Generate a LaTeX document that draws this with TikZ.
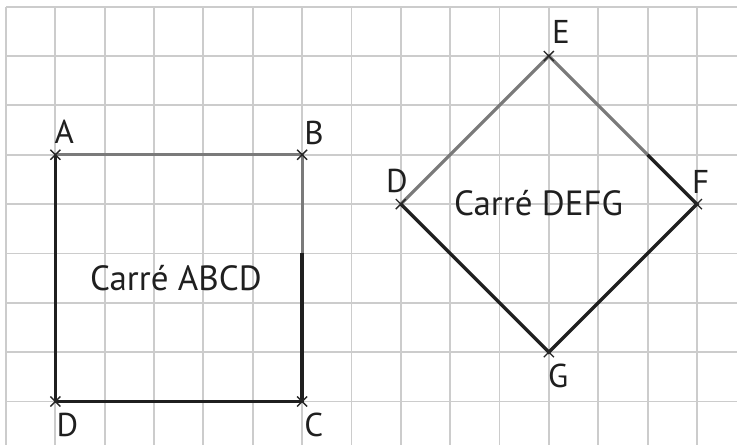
\documentclass[tikz,border=0pt]{standalone}
\usepackage{fontspec}
\setmainfont{PT Sans}
\usetikzlibrary{calc}
\begin{document}
\begin{tikzpicture}[x=1pt,y=-1pt,
  gridline/.style={draw=black!20,line width=1.9pt},
  seggray/.style={draw=black!52,line width=3.2pt},
  segblack/.style={draw=black!88,line width=3.4pt},
  crossmark/.style={draw=black!85,line width=1.3pt},
  ptlabel/.style={inner sep=0pt,anchor=base west,font=\fontsize{33}{36}\selectfont,text=black!88},
  title/.style={inner sep=0pt,anchor=base west,font=\fontsize{35}{38}\selectfont,text=black!88}]
\useasboundingbox (0,0) rectangle (737,445);
\def\cs{49.35}
\def\ox{6}
\def\oy{6.7}
% grid
\foreach \i in {0,...,14}{
  \draw[gridline] ({\ox+\i*\cs},\oy) -- ({\ox+\i*\cs},445);
}
\foreach \j in {0,...,8}{
  \draw[gridline] (\ox,{\oy+\j*\cs}) -- (737,{\oy+\j*\cs});
}
% points
\coordinate (A) at ({\ox+1*\cs},{\oy+3*\cs});
\coordinate (B) at ({\ox+6*\cs},{\oy+3*\cs});
\coordinate (C) at ({\ox+6*\cs},{\oy+8*\cs});
\coordinate (D) at ({\ox+1*\cs},{\oy+8*\cs});
\coordinate (BC) at ({\ox+6*\cs},{\oy+5*\cs});
\coordinate (D2) at ({\ox+8*\cs},{\oy+4*\cs});
\coordinate (E) at ({\ox+11*\cs},{\oy+1*\cs});
\coordinate (F) at ({\ox+14*\cs},{\oy+4*\cs});
\coordinate (G) at ({\ox+11*\cs},{\oy+7*\cs});
\coordinate (EF) at ({\ox+13*\cs},{\oy+3*\cs});
% square ABCD
\draw[seggray] (A) -- (B) -- (BC);
\draw[segblack,line join=miter] (BC) -- (C) -- (D) -- (A);
% square DEFG
\draw[seggray] (D2) -- (E) -- (EF);
\draw[segblack] (EF) -- (F) -- (G) -- (D2);
% crosses
\foreach \p in {A,B,C,D,D2,E,F,G}{
  \draw[crossmark] ($(\p)+(-5,-5)$) -- ($(\p)+(5,5)$);
  \draw[crossmark] ($(\p)+(-5,5)$) -- ($(\p)+(5,-5)$);
}
% labels
\node[ptlabel] (lA) at ($(A)+(-1,-11)$) {A};
\node[ptlabel] (lB) at ($(B)+(2,-10)$) {B};
\node[ptlabel] (lD) at ($(D)+(1,34.5)$) {D};
\node[ptlabel] (lC) at ($(C)+(2,34.5)$) {C};
\node[ptlabel] (lD2) at ($(D2)+(-15,-12)$) {D};
\node[ptlabel] (lE) at ($(E)+(3,-13)$) {E};
\node[ptlabel] (lF) at ($(F)+(-5,-11)$) {F};
\node[ptlabel] (lG) at ($(G)+(-1,35)$) {G};
\node[title] (t1) at (90,290) {Carré ABCD};
\node[title] (t2) at (454,215) {Carré DEFG};
\end{tikzpicture}
\end{document}
